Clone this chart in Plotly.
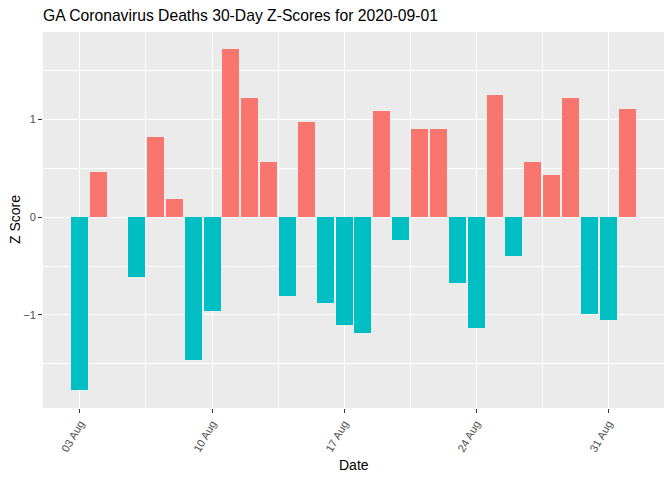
import plotly.graph_objects as go

dates = ["2020-08-03", "2020-08-04", "2020-08-05", "2020-08-06", "2020-08-07", "2020-08-08",
         "2020-08-09", "2020-08-10", "2020-08-11", "2020-08-12", "2020-08-13", "2020-08-14",
         "2020-08-15", "2020-08-16", "2020-08-17", "2020-08-18", "2020-08-19", "2020-08-20",
         "2020-08-21", "2020-08-22", "2020-08-23", "2020-08-24", "2020-08-25", "2020-08-26",
         "2020-08-27", "2020-08-28", "2020-08-29", "2020-08-30", "2020-08-31", "2020-09-01"]
zscores = [-1.77, 0.46, 0.0, -0.61, 0.82, 0.18,
           -1.46, -0.96, 1.72, 1.22, 0.56, -0.81,
           0.97, -0.88, -1.10, -1.18, 1.08, -0.23,
           0.90, 0.90, -0.67, -1.13, 1.25, -0.40,
           0.56, 0.43, 1.22, -0.99, -1.05, 1.10]
pos_color = "#F8766D"
neg_color = "#00BFC4"
colors = [pos_color if v > 0 else neg_color for v in zscores]

DAY = 86400000
W, H = 672, 480
L, R, T, B = 43, 8, 32, 72

fig = go.Figure(go.Bar(x=dates, y=zscores, marker_color=colors, marker_line_width=0,
                       width=0.9 * DAY, showlegend=False))

fig.update_layout(
    width=W, height=H,
    margin=dict(l=L, r=R, t=T, b=B, autoexpand=False),
    paper_bgcolor="white", plot_bgcolor="#EBEBEB",
    font=dict(family="Liberation Sans, Arial, sans-serif", color="#000000"),
    title=dict(text="GA Coronavirus Deaths 30-Day Z-Scores for 2020-09-01",
               x=L / W, xanchor="left", y=1 - 16 / H, yanchor="middle",
               font=dict(size=15.7, color="black")),
    bargap=0,
    annotations=[
        dict(text="Date", xref="paper", yref="paper", x=0.5,
             y=-(465 - (H - B)) / (H - T - B), xanchor="center", yanchor="middle",
             showarrow=False, font=dict(size=14, color="black")),
        dict(text="Z Score", xref="paper", yref="paper", x=-(L - 15) / (W - L - R),
             y=0.5, xanchor="center", yanchor="middle", textangle=-90,
             showarrow=False, font=dict(size=14, color="black")),
    ],
)

fig.update_xaxes(
    type="date", automargin=False,
    range=["2020-08-01 01:00", "2020-09-02 23:00"],
    tick0="2020-08-03", dtick=7 * DAY, tickformat="%d %b",
    tickangle=-60, tickfont=dict(size=11, color="#4D4D4D"),
    ticks="outside", ticklen=4, tickcolor="#333333", tickwidth=1,
    showgrid=True, gridcolor="white", gridwidth=1.1,
    minor=dict(tick0="2020-08-06 12:00", dtick=7 * DAY, showgrid=True,
               gridcolor="white", gridwidth=0.5),
    zeroline=False, showline=False,
)
fig.update_yaxes(
    automargin=False,
    range=[-1.95, 1.89],
    tick0=0, dtick=1,
    tickfont=dict(size=11, color="#4D4D4D"),
    ticks="outside", ticklen=4, tickcolor="#333333", tickwidth=1,
    showgrid=True, gridcolor="white", gridwidth=1.1,
    minor=dict(tick0=0.5, dtick=1, showgrid=True, gridcolor="white", gridwidth=0.5),
    zeroline=False, showline=False,
)

fig.write_html("out.html", config={"displayModeBar": False},
               post_script="document.body.style.margin='0px';")
